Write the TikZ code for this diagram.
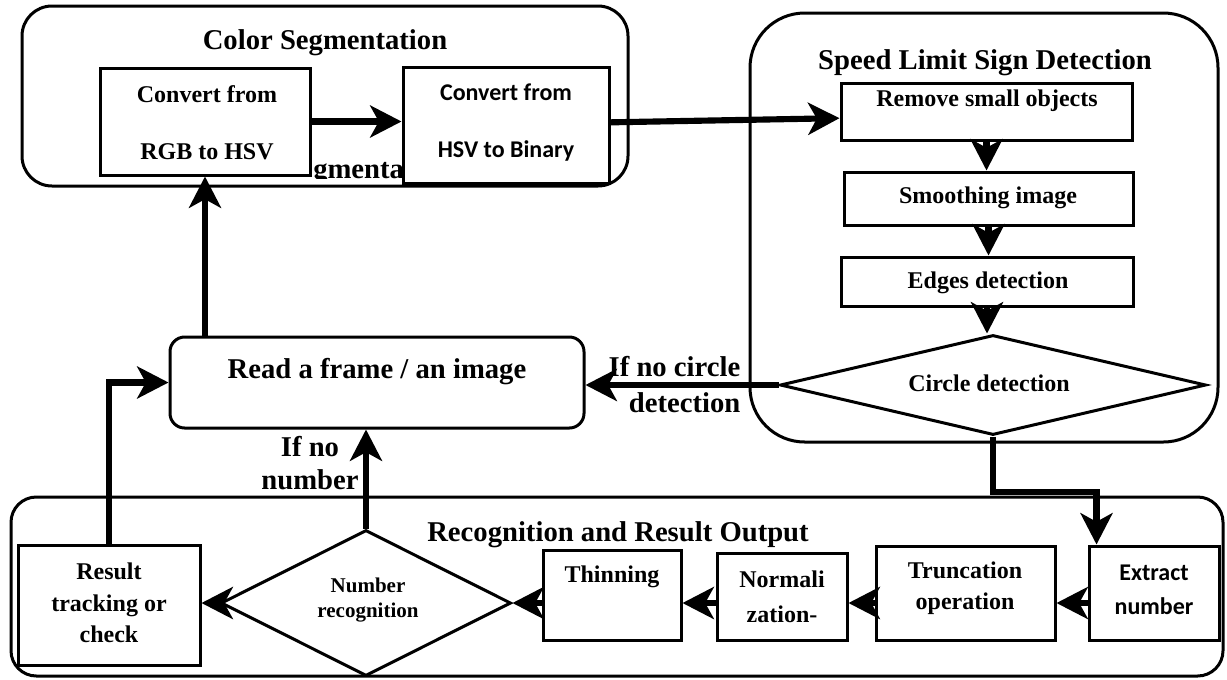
\documentclass[tikz,border=0pt]{standalone}
\usepackage{fontspec}
\setmainfont{Liberation Serif}
\newfontfamily\calfont{Carlito}
\usetikzlibrary{arrows.meta,fit,shapes.geometric}

\begin{document}
\begin{tikzpicture}[x=0.75pt,y=-0.75pt,
  panel/.style={draw, line width=2.25pt, inner sep=0pt, rounded corners=#1},
  stepbox/.style={draw, line width=2.25pt, fill=white, inner sep=0pt},
  decision/.style={draw, diamond, line width=2.25pt, fill=white, inner sep=0pt},
  arr/.style={line width=4.6pt, -{Stealth[length=23.5pt,width=24pt,inset=6.5pt]}},
  title/.style={font=\bfseries\fontsize{21.5pt}{26pt}\selectfont},
  boxtext/.style={font=\bfseries\fontsize{18pt}{#1}\selectfont, align=center},
  boxtext/.default=22pt,
  sanstext/.style={font=\calfont\bfseries\fontsize{18pt}{#1}\selectfont, align=center},
  sanstext/.default=22pt,
  smalltext/.style={font=\bfseries\fontsize{15.75pt}{18.75pt}\selectfont, align=center},
]
\useasboundingbox (0,0) rectangle (1227,679);

% the three stage panels
\node[panel=22.5pt, fit={(22,6) (628,186)}] (colseg) {};
\node[panel=41pt, fit={(750,13) (1218,442)}] (speed) {};
\node[panel=19pt, fit={(11,497) (1223,676)}] (recog) {};

% stray text fragment between the two conversion boxes, cut off at its foot
\begin{scope}
  \clip (305,140) rectangle (405,178);
  \node[title, anchor=base west, inner sep=0pt] (ghost) at (313,178) {gmenta};
\end{scope}

% step boxes
\node[stepbox, fit={(100,68) (310,175)}] (rgb) {};
\node[stepbox, fit={(403,67) (609,183)}] (bin) {};
\node[stepbox, fit={(841,83) (1132,140)}] (remove) {};
\node[stepbox, fit={(844,172) (1133,225)}] (smooth) {};
\node[stepbox, fit={(841,257) (1133,306)}] (edges) {};
\node[decision, minimum width=319.5pt, minimum height=75pt] (circ) at (993,385) {};
\node[panel=11pt, fill=white, fit={(170,337) (584,428)}] (read) {};
\node[stepbox, fit={(18,545) (200,665)}] (result) {};
\node[decision, minimum width=217.5pt, minimum height=109.5pt] (numrec) at (366,603) {};
\node[stepbox, fit={(543,550) (681,640)}] (thin) {};
\node[stepbox, fit={(717,553) (847,640)}] (norm) {};
\node[stepbox, fit={(876,546) (1055,640)}] (trunc) {};
\node[stepbox, fit={(1089,546) (1219,640)}] (extract) {};

% texts
\node[title] (tcs) at (325,43) {Color Segmentation};
\node[title] (tsp) at (985,63) {Speed Limit Sign Detection};
\node[title] (trec) at (618,535) {Recognition and Result Output};
\node[title] (tread) at (377,372) {Read a frame / an image};
\node[boxtext=42.75pt] (trgb) at (207,123) {Convert from\\RGB to HSV};
\node[sanstext=42.75pt] (tbin) at (506,123) {Convert from\\HSV to Binary};
\node[boxtext] (tremove) at (987,101) {Remove small objects};
\node[boxtext] (tsmooth) at (988,198) {Smoothing image};
\node[boxtext] (tedges) at (988,283) {Edges detection};
\node[boxtext] (tcirc) at (989,383) {Circle detection};
\node[boxtext=23.6pt] (tresult) at (109,603) {Result\\tracking or\\check};
\node[smalltext] (tnum) at (368,600) {Number\\recognition};
\node[boxtext] (tthin) at (612,577) {Thinning};
\node[boxtext=26.25pt] (tnorm) at (782,597) {Normali\\zation-};
\node[boxtext=23.25pt] (ttrunc) at (965,588) {Truncation\\operation};
\node[sanstext=25.5pt] (textract) at (1154,590) {Extract\\number};

% connectors
\draw[arr] (rgb.east) -- (rgb.east -| bin.west);
\draw[arr] ([yshift=2pt]bin.east) -- ([yshift=-5pt]remove.west);
\draw[arr] (remove.south) -- (remove.south |- smooth.north);
\draw[arr] (smooth.south) -- (smooth.south |- edges.north);
\draw[arr] (edges.south) -- (edges.south |- circ.north);
\draw[arr] (circ.west) -- (circ.west -| read.east);
\draw[arr] (rgb.south |- read.north) -- (rgb.south);
\draw[arr] (result.north) |- (read.west);
\draw[arr] (numrec.north) -- (numrec.north |- read.south);
\draw[arr] (circ.south) -- (circ.south |- 0,492) -| ([xshift=6.75pt]extract.north west);
\draw[arr] (extract.west |- numrec.east) -- (trunc.east |- numrec.east);
\draw[arr] (trunc.west |- numrec.east) -- (norm.east |- numrec.east);
\draw[arr] (norm.west |- numrec.east) -- (thin.east |- numrec.east);
\draw[arr] (thin.west |- numrec.east) -- (numrec.east);
\draw[arr] (numrec.west) -- (numrec.west -| result.east);

% branch labels
\node[title, align=right, anchor=east, font=\bfseries\fontsize{21.5pt}{27pt}\selectfont] (lcirc) at (745,385) {If no circle\\detection};
\node[title, align=center, font=\bfseries\fontsize{21.5pt}{25pt}\selectfont] (lnum) at (310,463) {If no\\number};
\end{tikzpicture}
\end{document}
